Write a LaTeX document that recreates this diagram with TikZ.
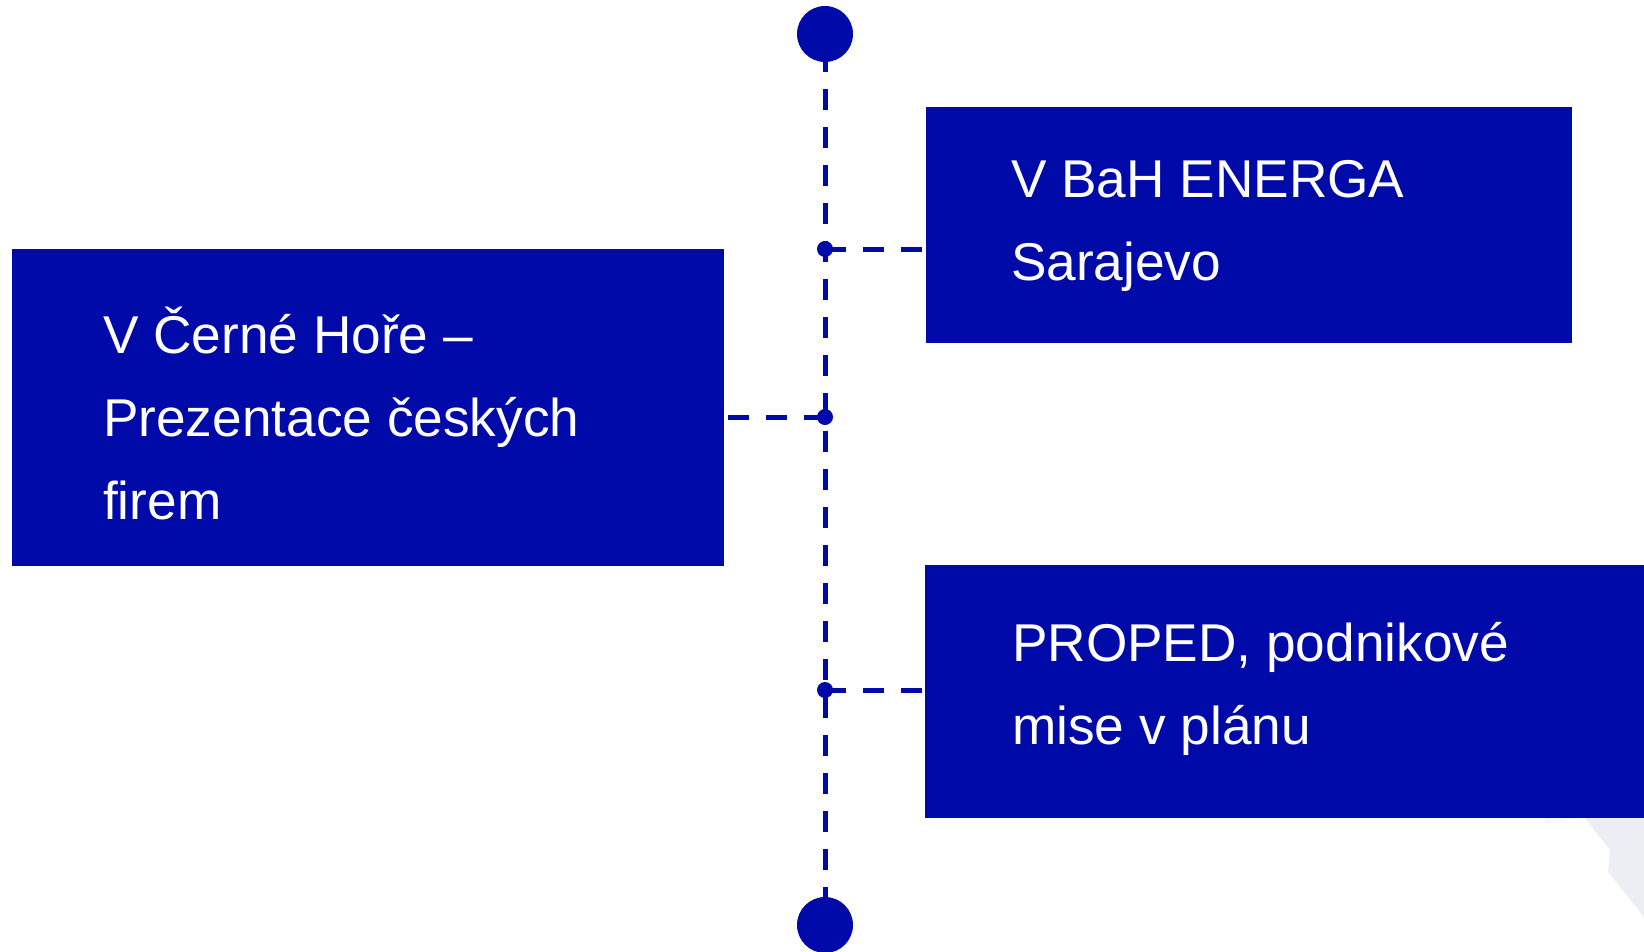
\documentclass[tikz,border=0pt]{standalone}
\usepackage{fontspec}
\setmainfont{Liberation Sans}
\usetikzlibrary{positioning, calc}
\definecolor{navy}{RGB}{0,10,168}
\definecolor{paleblue}{RGB}{236,238,244}
\tikzstyle{box} = [draw=none, fill=navy, anchor=north west, inner sep=0pt]
\tikzstyle{txt} = [text=white, anchor=base west, inner sep=0pt, align=left, font=\fontsize{53.2}{83}\selectfont]
\tikzstyle{link} = [navy, line width=5pt, dash pattern=on 21pt off 17pt]

\begin{document}
\begin{tikzpicture}[x=1pt, y=-1pt]
		\useasboundingbox (0, 0) rectangle (1644, 951);
		\coordinate (start)  at (825,  34);
		\coordinate (finish) at (825,  925);
		\coordinate (knot1)  at (825,  249);
		\coordinate (knot2)  at (825,  417);
		\coordinate (knot3)  at (825,  690);

		% background corner
		\fill[paleblue] (1578, 810) -- (1610, 850) -- (1608, 872) -- (1644, 917) -- (1644, 810) -- cycle;
		\fill[paleblue!50!white] (1543, 816) -- (1545, 824) -- (1586, 816) -- cycle;

		\node[box, minimum width=712pt, minimum height=317.5pt] (LFT) at (11.5, 248.5) {};
		\node[box, minimum width=646pt, minimum height=236pt] (TOP) at (926, 107) {};
		\node[box, minimum width=730pt, minimum height=253pt] (BOT) at (925, 565) {};

		% base anchor sits on the last line
		\node[txt] (LFTtxt) at ($(LFT.north west) + (91.5, 270.5)$) {V Černé Hoře –\\Prezentace českých\\firem};
		\node[txt] (TOPtxt) at ($(TOP.north west) + (85, 173)$) {V BaH ENERGA\\Sarajevo};
		\node[txt] (BOTtxt) at ($(BOT.north west) + (87, 179)$) {PROPED, podnikové\\mise v plánu};

		\draw[link, dash phase=21pt] (start) -- (finish);
		\draw[link] (knot1) -- (knot1 -| TOP.west);
		\draw[link] (knot2) -- (knot2 -| LFT.east);
		\draw[link] (knot3) -- (knot3 -| BOT.west);

		\fill[navy] (start) circle (28);
		\fill[navy] (finish) circle (28);
		\foreach \k in {1, 2, 3}
			\fill[navy] (knot\k) circle (8);

	\end{tikzpicture}
\end{document}
